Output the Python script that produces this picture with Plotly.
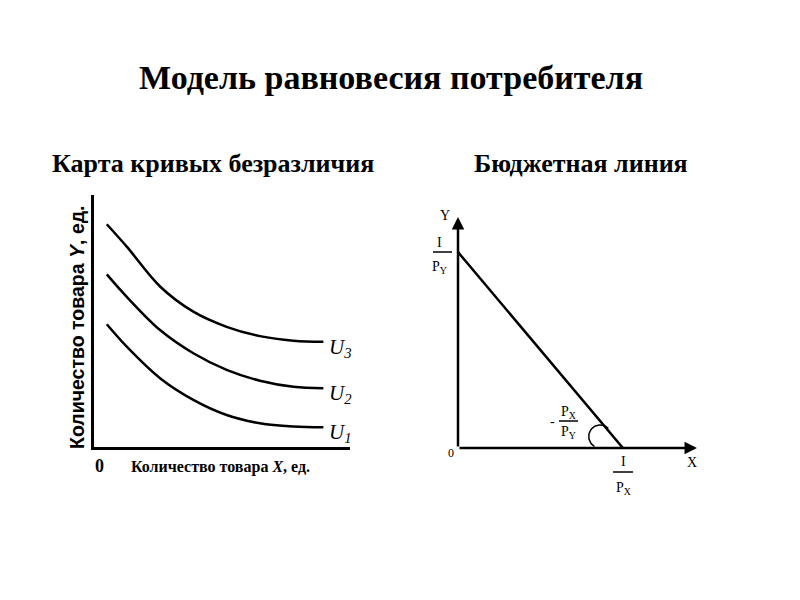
import numpy as np
import plotly.graph_objects as go

# page body has an 8px margin, so the figure starts at (8, 8) in the window
OFF = 8
W, H = 800 - OFF, 600 - OFF

# indifference curves (x, y in axis units 0..10)
u_x = [0.5, 1.28, 2.58, 3.88, 5.18, 6.48, 7.79, 8.96]
u1_y = [4.87, 3.98, 2.73, 1.87, 1.27, 0.94, 0.81, 0.78]
u2_y = [6.85, 5.96, 4.64, 3.72, 3.06, 2.63, 2.39, 2.33]
u3_y = [8.84, 7.95, 6.37, 5.37, 4.77, 4.40, 4.22, 4.18]
u_labels = ['U<sub>1</sub>', 'U<sub>2</sub>', 'U<sub>3</sub>']

# budget line intercepts (right panel, axis units 0..10)
budget_x = [0, 6.9]
budget_y = [8.48, 0]


def px(x):
    return (x - OFF) / W


def py(y):
    return 1 - (y - OFF) / H


fig = go.Figure()

# left panel - indifference map
for ys in [u1_y, u2_y, u3_y]:
    fig.add_trace(go.Scatter(x=u_x, y=ys, mode='lines', line=dict(color='black', width=2.5, shape='spline'),
                             xaxis='x', yaxis='y', showlegend=False, hoverinfo='skip'))

# right panel - budget line
fig.add_trace(go.Scatter(x=budget_x, y=budget_y, mode='lines', line=dict(color='black', width=2.5),
                         xaxis='x2', yaxis='y2', showlegend=False, hoverinfo='skip'))

# small angle arc near the x intercept
cx, cy, rx, ry = 5.95, 0.5, 0.48, 0.5
t = np.linspace(np.radians(45), np.radians(240), 40)
fig.add_trace(go.Scatter(x=cx + rx * np.cos(t), y=cy + ry * np.sin(t), mode='lines',
                         line=dict(color='black', width=1.5), xaxis='x2', yaxis='y2',
                         showlegend=False, hoverinfo='skip'))

ax_common = dict(showgrid=False, zeroline=False, showticklabels=False, ticks='', range=[0, 10], fixedrange=True)

fig.update_layout(
    width=W, height=H,
    margin=dict(l=0, r=0, t=0, b=0),
    paper_bgcolor='white', plot_bgcolor='white',
    font=dict(family='Liberation Serif', color='black'),
    xaxis=dict(domain=[px(94), px(350)], anchor='y', showline=True, linecolor='black', linewidth=2.5, **ax_common),
    yaxis=dict(domain=[py(447), py(195)], anchor='x', showline=True, linecolor='black', linewidth=2.5, **ax_common),
    xaxis2=dict(domain=[px(458), px(697)], anchor='y2', showline=False, **ax_common),
    yaxis2=dict(domain=[py(448), py(217)], anchor='x2', showline=False, **ax_common),
)

# axes with arrows for the budget panel
fig.add_annotation(x=10, y=0, ax=0, ay=0, xref='x2', yref='y2', axref='x2', ayref='y2', text='',
                   showarrow=True, arrowhead=2, arrowsize=1, arrowwidth=2.5, arrowcolor='black')
fig.add_annotation(x=0, y=10, ax=0, ay=0, xref='x2', yref='y2', axref='x2', ayref='y2', text='',
                   showarrow=True, arrowhead=2, arrowsize=1, arrowwidth=2.5, arrowcolor='black')


def label(x, y, text, size, **kw):
    fig.add_annotation(x=px(x), y=py(y), xref='paper', yref='paper', text=text, showarrow=False,
                       xanchor='center', yanchor='middle', font=dict(size=size, **kw.pop('font', {})), **kw)


# titles
label(391, 77, '<b>Модель равновесия потребителя</b>', 34)
label(213, 163, '<b>Карта кривых безразличия</b>', 26)
label(581, 163, '<b>Бюджетная линия</b>', 26)

# left axis titles
label(77, 327, '<b>Количество товара <i>Y</i>, ед.</b>', 19.5, textangle=-90, font=dict(family='Liberation Sans'))
label(220, 467, '<b>Количество товара <i>X</i>, ед.</b>', 16)
label(99, 466, '<b>0</b>', 18)

# curve labels
for ys, lab in zip([u1_y, u2_y, u3_y], u_labels):
    fig.add_annotation(x=u_x[-1], y=ys[-1], xref='x', yref='y', text='<i>' + lab + '</i>', showarrow=False,
                       xanchor='left', yanchor='middle', xshift=4, yshift=-6,
                       font=dict(family='Liberation Serif', size=21))

# budget panel labels
label(445, 215, 'Y', 14)
label(692, 463, 'X', 14)
label(451, 453, '0', 12)

fractions = [
    (440, 242, 267, 252, 433, 452, 'I', 'P<sub>Y</sub>'),
    (623, 461, 488, 472, 613, 633, 'I', 'P<sub>X</sub>'),
    (568, 412, 432, 421, 559, 578, 'P<sub>X</sub>', 'P<sub>Y</sub>'),
]
for xc, ytop, ybot, yline, x0, x1, top, bot in fractions:
    label(xc, ytop, top, 14)
    label(xc, ybot, bot, 14)
    fig.add_shape(type='line', x0=px(x0), x1=px(x1), y0=py(yline), y1=py(yline), xref='paper', yref='paper',
                  line=dict(color='black', width=1.5))
label(552, 421, '-', 14)

fig.write_html("out.html")
